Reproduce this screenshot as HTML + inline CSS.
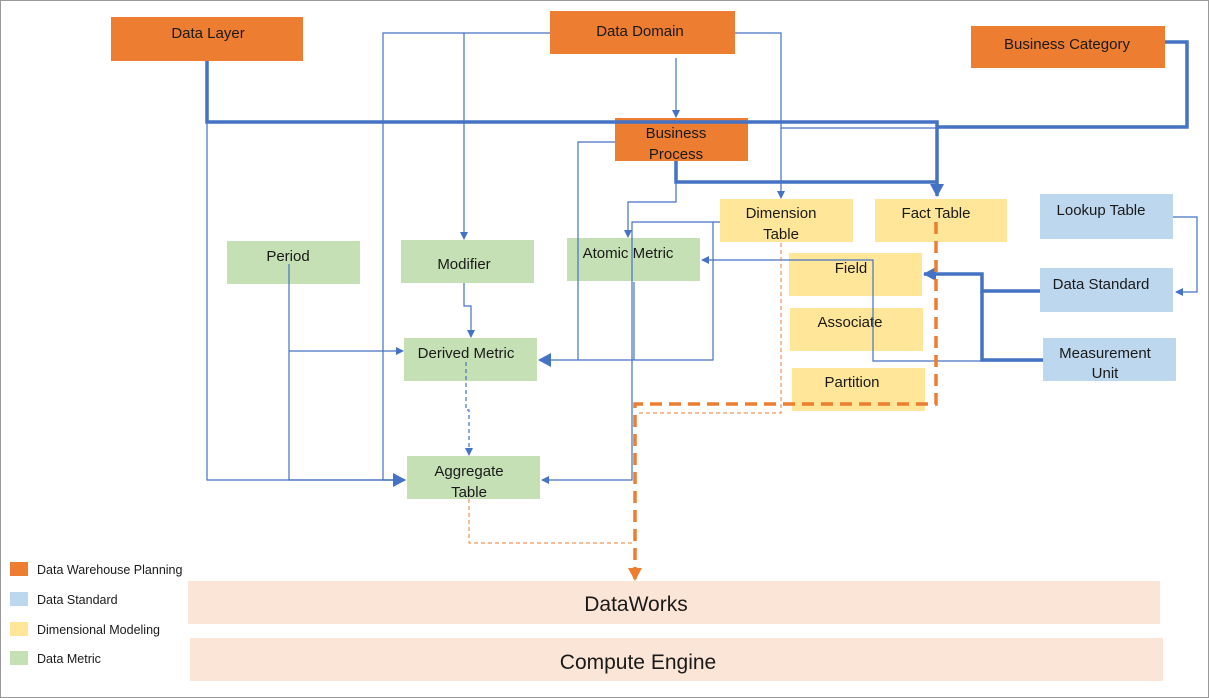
<!DOCTYPE html>
<html><head><meta charset="utf-8"><style>
html,body{margin:0;padding:0;background:#fff}
svg{display:block}
text{font-family:"Liberation Sans",sans-serif;fill:#1a1a1a}
</style></head><body>
<svg width="1209" height="698" viewBox="0 0 1209 698" xmlns="http://www.w3.org/2000/svg">
<defs>
<marker id="a" markerWidth="8" markerHeight="8" refX="7" refY="4" orient="auto" markerUnits="userSpaceOnUse"><path d="M0,0 L8,4 L0,8z" fill="#4472C4"/></marker>
<marker id="b" markerWidth="14" markerHeight="14" refX="12" refY="7" orient="auto" markerUnits="userSpaceOnUse"><path d="M0,0 L13,7 L0,14z" fill="#4472C4"/></marker>
<marker id="o" markerWidth="14" markerHeight="14" refX="12" refY="7" orient="auto" markerUnits="userSpaceOnUse"><path d="M0,0 L13,7 L0,14z" fill="#ED7D31"/></marker>
</defs>
<rect x="0.5" y="0.5" width="1208" height="697" fill="#fff" stroke="#999"/>
<g font-size="15">
<!-- orange -->
<rect x="111" y="17" width="192" height="44" fill="#ED7D31"/><text x="208" y="38" text-anchor="middle">Data Layer</text>
<rect x="550" y="11" width="185" height="43" fill="#ED7D31"/><text x="640" y="36" text-anchor="middle">Data Domain</text>
<rect x="971" y="26" width="194" height="42" fill="#ED7D31"/><text x="1067" y="49" text-anchor="middle">Business Category</text>
<rect x="615" y="118" width="133" height="43" fill="#ED7D31"/><text x="676" y="138" text-anchor="middle">Business</text><text x="676" y="159" text-anchor="middle">Process</text>
<!-- yellow -->
<rect x="720" y="199" width="133" height="43" fill="#FFE699"/><text x="781" y="218" text-anchor="middle">Dimension</text><text x="781" y="239" text-anchor="middle">Table</text>
<rect x="875" y="199" width="132" height="43" fill="#FFE699"/><text x="936" y="218" text-anchor="middle">Fact Table</text>
<rect x="789" y="253" width="133" height="43" fill="#FFE699"/><text x="851" y="273" text-anchor="middle">Field</text>
<rect x="790" y="308" width="133" height="43" fill="#FFE699"/><text x="850" y="327" text-anchor="middle">Associate</text>
<rect x="792" y="368" width="133" height="43" fill="#FFE699"/><text x="852" y="387" text-anchor="middle">Partition</text>
<!-- blue -->
<rect x="1040" y="194" width="133" height="45" fill="#BDD7EE"/><text x="1101" y="215" text-anchor="middle">Lookup Table</text>
<rect x="1040" y="268" width="133" height="44" fill="#BDD7EE"/><text x="1101" y="289" text-anchor="middle">Data Standard</text>
<rect x="1043" y="338" width="133" height="43" fill="#BDD7EE"/><text x="1105" y="358" text-anchor="middle">Measurement</text><text x="1105" y="378" text-anchor="middle">Unit</text>
<!-- green -->
<rect x="227" y="241" width="133" height="43" fill="#C5E0B4"/><text x="288" y="261" text-anchor="middle">Period</text>
<rect x="401" y="240" width="133" height="43" fill="#C5E0B4"/><text x="464" y="269" text-anchor="middle">Modifier</text>
<rect x="567" y="238" width="133" height="43" fill="#C5E0B4"/><text x="628" y="258" text-anchor="middle">Atomic Metric</text>
<rect x="404" y="338" width="133" height="43" fill="#C5E0B4"/><text x="466" y="358" text-anchor="middle">Derived Metric</text>
<rect x="407" y="456" width="133" height="43" fill="#C5E0B4"/><text x="469" y="476" text-anchor="middle">Aggregate</text><text x="469" y="497" text-anchor="middle">Table</text>
</g>
<!-- thin blue lines -->
<g fill="none" stroke="#4472C4" stroke-width="1.2">
<path d="M550,33 H383 V480 H405" marker-end="url(#a)"/>
<path d="M464,33 V239" marker-end="url(#a)"/>
<path d="M676,58 V117" marker-end="url(#a)"/>
<path d="M735,33 H781 V198" marker-end="url(#a)"/>
<path d="M207,61 V480 H405" marker-end="url(#b)"/>
<path d="M289,264 V480 H405"/>
<path d="M289,351 H403" marker-end="url(#a)"/>
<path d="M464,283 V306 H471 V337" marker-end="url(#a)"/>
<path d="M615,142 H578 V360 H539" marker-end="url(#b)"/>
<path d="M676,161 V202 H628 V237" marker-end="url(#a)"/>
<path d="M720,222 H713 V360 H578"/>
<path d="M713,222 H632 V480 H542" marker-end="url(#a)"/>
<path d="M634,282 V360"/>
<path d="M1043,361 H873 V260 H702" marker-end="url(#a)"/>
<path d="M1173,217 H1197 V292 H1176" marker-end="url(#a)"/>
<path d="M781,128 H937"/>
<path d="M466,362 V410 H469 V455" stroke-dasharray="4,3" marker-end="url(#a)"/>
</g>
<!-- thick blue -->
<g fill="none" stroke="#4472C4" stroke-width="3.5">
<path d="M207,61 V122 H937 V196" marker-end="url(#b)"/>
<path d="M1165,42 H1187 V127 H937"/>
<path d="M676,161 V182 H937"/>
<path d="M1040,291 H982 V274 H924" marker-end="url(#b)"/>
<path d="M1043,360 H982 V291"/>
</g>
<!-- orange dashed -->
<g fill="none" stroke="#ED7D31">
<path d="M469,499 V543 H635" stroke-dasharray="4,3" stroke-width="1"/>
<path d="M781,243 V413 H636" stroke-dasharray="4,3" stroke-width="1"/>
<path d="M936,222 V404 H635 V580" stroke-dasharray="12,7" stroke-width="3.5" marker-end="url(#o)"/>
</g>
<!-- bottom bars -->
<rect x="188" y="581" width="972" height="43" fill="#FBE5D6"/><text x="636" y="611" text-anchor="middle" font-size="21">DataWorks</text>
<rect x="190" y="638" width="973" height="43" fill="#FBE5D6"/><text x="638" y="669" text-anchor="middle" font-size="21">Compute Engine</text>
<!-- legend -->
<g font-size="12.5">
<rect x="10" y="562" width="18" height="14" fill="#ED7D31"/><text x="37" y="574">Data Warehouse Planning</text>
<rect x="10" y="592" width="18" height="14" fill="#BDD7EE"/><text x="37" y="604">Data Standard</text>
<rect x="10" y="622" width="18" height="14" fill="#FFE699"/><text x="37" y="634">Dimensional Modeling</text>
<rect x="10" y="651" width="18" height="14" fill="#C5E0B4"/><text x="37" y="663">Data Metric</text>
</g>
</svg>
</body></html>
